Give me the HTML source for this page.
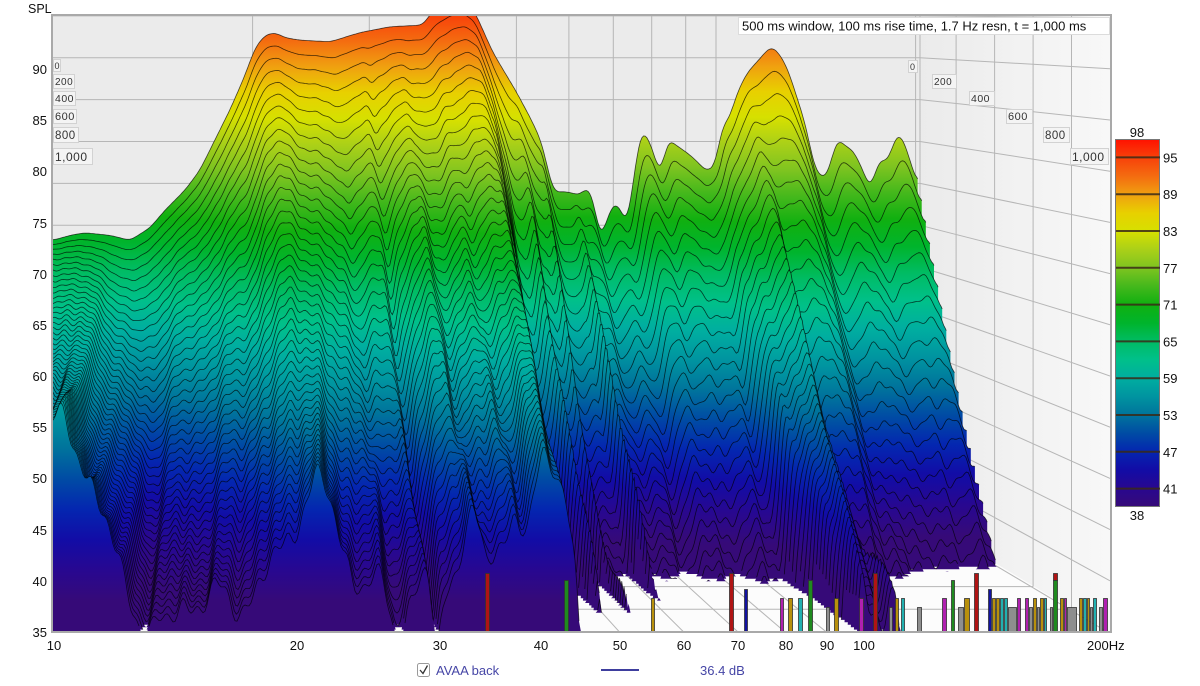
<!DOCTYPE html>
<html><head><meta charset="utf-8">
<style>
html,body{margin:0;padding:0;background:#fff;}
body{width:1200px;height:686px;overflow:hidden;position:relative;font-family:"Liberation Sans",sans-serif;}
svg{position:absolute;left:0;top:0;}
text{font-family:"Liberation Sans",sans-serif;}
</style></head><body>
<svg id="c" width="1200" height="686" viewBox="0 0 1200 686" xmlns="http://www.w3.org/2000/svg">
<defs id="defs">
 <clipPath id="pc"><rect x="53" y="16" width="1057" height="615"/></clipPath>
 <linearGradient id="rw" x1="0" y1="0" x2="1" y2="0"><stop offset="0" stop-color="#ebebeb"/><stop offset="1" stop-color="#f8f8f8"/></linearGradient>
</defs>
<g clip-path="url(#pc)">
  <polygon points="53,15 920,15 920,518 53,518" fill="#ebebeb"/>
  <polygon points="920,15 1110,15 1110,632 920,518" fill="url(#rw)"/>
  <polygon points="53,518 920,518 1110,632 53,632" fill="#fcfcfc"/>
  <g id="grid" stroke="#b6b6b6" stroke-width="1" fill="none"></g>
  <g id="wf"></g>
  <g id="bars"></g>
</g>
<rect x="52" y="15" width="1059" height="617" fill="none" stroke="#a9a9a9" stroke-width="2"/>
<g fill="#f4f4f4" stroke="#d2d2d2" stroke-width="1">
 <rect x="53.5" y="59.5" width="7" height="12"/>
 <rect x="53.5" y="74.5" width="21" height="14"/>
 <rect x="53.5" y="91.5" width="22" height="14"/>
 <rect x="53.5" y="109.5" width="23" height="14"/>
 <rect x="53.5" y="127.5" width="25" height="15"/>
 <rect x="53.5" y="148.5" width="39" height="16"/>
 <rect x="908.5" y="60.5" width="9" height="12"/>
 <rect x="932.5" y="74.5" width="24" height="14"/>
 <rect x="969.5" y="91.5" width="25" height="14"/>
 <rect x="1006.5" y="109.5" width="26" height="14"/>
 <rect x="1043.5" y="127.5" width="26" height="15"/>
 <rect x="1070.5" y="148.5" width="38" height="16"/>
</g>
<g fill="#333">
 <text x="54.5" y="69" font-size="9">0</text>
 <text x="55" y="85" font-size="10" letter-spacing="0.5">200</text>
 <text x="55" y="102" font-size="10.5" letter-spacing="0.5">400</text>
 <text x="55" y="120" font-size="11" letter-spacing="0.5">600</text>
 <text x="55" y="139" font-size="11.5" letter-spacing="0.5">800</text>
 <text x="55" y="161" font-size="12" letter-spacing="0.5">1,000</text>
 <text x="910" y="70" font-size="9">0</text>
 <text x="934" y="85" font-size="10" letter-spacing="0.5">200</text>
 <text x="971" y="102" font-size="10.5" letter-spacing="0.5">400</text>
 <text x="1008" y="120" font-size="11" letter-spacing="0.5">600</text>
 <text x="1045" y="139" font-size="11.5" letter-spacing="0.5">800</text>
 <text x="1072" y="161" font-size="12" letter-spacing="0.5">1,000</text>
</g>
<rect x="738.5" y="17.5" width="371" height="17" fill="#fff" stroke="#dcdcdc"/>
<text x="742" y="30.5" font-size="13" fill="#111">500 ms window, 100 ms rise time,  1.7 Hz resn, t = 1,000 ms</text>
<text x="28" y="13" font-size="12.5" fill="#111">SPL</text>
<g font-size="13" fill="#111" text-anchor="end">
 <text x="47" y="74">90</text>
 <text x="47" y="125">85</text>
 <text x="47" y="176">80</text>
 <text x="47" y="228">75</text>
 <text x="47" y="279">70</text>
 <text x="47" y="330">65</text>
 <text x="47" y="381">60</text>
 <text x="47" y="432">55</text>
 <text x="47" y="483">50</text>
 <text x="47" y="535">45</text>
 <text x="47" y="586">40</text>
 <text x="47" y="637">35</text>
</g>
<g font-size="13" fill="#111" text-anchor="middle">
 <text x="54" y="650">10</text>
 <text x="297" y="650">20</text>
 <text x="440" y="650">30</text>
 <text x="541" y="650">40</text>
 <text x="620" y="650">50</text>
 <text x="684" y="650">60</text>
 <text x="738" y="650">70</text>
 <text x="786" y="650">80</text>
 <text x="827" y="650">90</text>
 <text x="864" y="650">100</text>
</g>
<text x="1087" y="650" font-size="13" fill="#111">200Hz</text>
<rect x="417.5" y="663.5" width="12" height="13" rx="2" fill="#fff" stroke="#9a9a9a"/>
<path d="M420,670 l3,3.5 l4.5,-8" stroke="#333" stroke-width="1.3" fill="none"/>
<text x="436" y="675" font-size="13" fill="#4646a6">AVAA back</text>
<line x1="601" y1="670" x2="639" y2="670" stroke="#3e3e9e" stroke-width="2"/>
<text x="700" y="675" font-size="13" fill="#4646a6">36.4 dB</text>
<rect id="cbr" x="1115.5" y="139.5" width="44" height="367" fill="url(#cb)" stroke="#777"/>
<g id="cbt"></g>
<text x="1137" y="137" font-size="13" fill="#111" text-anchor="middle">98</text>
<text x="1137" y="520" font-size="13" fill="#111" text-anchor="middle">38</text>
</svg>
<script>
(function(){
var NS="http://www.w3.org/2000/svg";
var K=0.818;
function yf(d){return 632-(d-35)*10.24;}
function sx(u,s){return 53+s*u;}
function sy(d,s){return 8+s*(yf(d)-8);}
function el(tag,a,p){var e=document.createElementNS(NS,tag);for(var k in a)e.setAttribute(k,a[k]);p.appendChild(e);return e;}
var defs=document.getElementById('defs');
var ST=[[98,'#ff1200'],[95,'#f8420a'],[92,'#f46c10'],[89,'#f0a010'],[86,'#e8d000'],[83,'#d6e000'],[80,'#aad018'],[77,'#7ec420'],[74,'#44b81c'],[71,'#10b010'],[68,'#00b42c'],[65,'#00bc64'],[62,'#00c08a'],[59,'#00aea0'],[56,'#0094a0'],[53,'#00749c'],[50,'#004ca4'],[47,'#0426b0'],[44,'#120ca6'],[41,'#280890'],[38,'#360a78']];
function addStops(g){for(var i=0;i<ST.length;i++){el('stop',{offset:((98-ST[i][0])/60).toFixed(4),'stop-color':ST[i][1]},g);}}
var cb=el('linearGradient',{id:'cb',x1:0,y1:0,x2:0,y2:1},defs);addStops(cb);
var cbt=document.getElementById('cbt');
[95,89,83,77,71,65,59,53,47,41].forEach(function(d){
 var y=139+(98-d)/60*368;
 el('line',{x1:1116,y1:y,x2:1160,y2:y,stroke:'#3a2a18','stroke-width':2,'stroke-opacity':0.85},cbt);
 var t=el('text',{x:1163,y:y+5,'font-size':13,fill:'#111'},cbt);t.textContent=String(d);
});
var G=document.getElementById('grid');
function ln(x1,y1,x2,y2){el('line',{x1:x1.toFixed(1),y1:y1.toFixed(1),x2:x2.toFixed(1),y2:y2.toFixed(1)},G);}
function uf(f){return 810.5*Math.log10(f/10);}
var freqs=[20,30,40,50,60,70,80,90,100,200];
freqs.forEach(function(f){var u=uf(f);ln(sx(u,K),0,sx(u,K),518);ln(sx(u,K),518,sx(u,1),632);});
for(var d=40;d<=95;d+=5){ln(53,sy(d,K),920,sy(d,K));ln(920,sy(d,K),1110,yf(d));}
for(var k=1;k<5;k++){var s=K+(1-K)*k/5;ln(53,8+s*624,53+s*1057,8+s*624);ln(53+s*1057,0,53+s*1057,8+s*624);}
ln(920,0,920,518);
var Bp=[[0,68.2],[20.8,68.8],[39.1,69.1],[69.7,68.8],[94.1,68.2],[118.6,69.7],[136.9,71.8],[161.4,74.2],[179.7,76.6],[198,80.2],[216.4,83.8],[234.7,87.9],[246.9,91.2],[259.2,92.7],[271.4,93.0],[283.6,92.4],[302,92.1],[338.6,91.9],[375.3,93.0],[412,93.7],[452.3,93.9],[463.3,95.5],[479.2,96.5],[497.6,96.9],[512.2,96.0],[518.3,94.9],[537.9,90.6],[567.2,85.8],[586.8,82.2],[597.8,79.8],[611.3,74.0],[628.4,74.0],[644.3,73.6],[652.8,74.6],[660.2,73.4],[668.7,68.2],[684.6,72.7],[693.2,72.2],[701.7,69.8],[717.6,81.0],[723.7,81.1],[733.5,79.0],[742.1,75.8],[751.8,80.4],[757.9,79.8],[770.2,79.0],[782.4,78.1],[793.4,77.0],[799.5,76.4],[811.7,77.4],[815.4,81.4],[827.6,82.9],[836.2,85.8],[848.4,88.2],[860.6,89.5],[876.5,91.3],[885.1,90.9],[897.3,88.9],[909.5,85.3],[921.8,81.4],[929.1,77.4],[937.7,75.8],[946.2,75.8],[958.4,80.4],[970.7,79.3],[978,79.0],[990.2,76.6],[998.8,74.2],[1011,78.1],[1019.6,77.4],[1031.8,81.0],[1039.1,80.4],[1051.4,76.6],[1057,74.8]];
var Fp=[[0,53.7],[14,54],[30,52],[50,47],[70,41],[87,37.5],[100,34.5],[115,34.5],[130,37],[160,38.5],[200,39.5],[230,42],[250,47],[262,49],[275,48],[300,42],[330,39],[345,34],[355,37],[375,40],[384,31],[392,38],[410,46],[420,48],[432,42],[450,44],[462,47],[475,44],[490,50],[500,51],[512,50],[522,42],[532,30],[545,16],[555,15],[565,33],[575,15],[588,15],[594,30],[600,15],[630,15],[637,36],[644,15],[700,15],[760,15],[795,15],[807,37],[845,37],[858,14],[950,10],[1057,1]];
function interp(P,u){if(u<=P[0][0])return P[0][1];for(var i=1;i<P.length;i++){if(u<=P[i][0]){var a=P[i-1],b=P[i];return a[1]+(b[1]-a[1])*(u-a[0])/(b[0]-a[0]);}}return P[P.length-1][1];}
var U=[];for(var u=0;u<1057;u+=2)U.push(u);U.push(1057);
function smooth(A,r){var out=[];for(var i=0;i<A.length;i++){var s=0,n=0;for(var j=i-r;j<=i+r;j++){if(j>=0&&j<A.length){s+=A[j];n++;}}out.push(s/n);}return out;}
var Bv=U.map(function(u){return interp(Bp,u);});Bv=smooth(smooth(Bv,2),2);
var Fv=U.map(function(u){return interp(Fp,u);});Fv=smooth(Fv,1);
function rip(u,t){var amp=t*(u>520?2.6:1.5);return amp*(0.4*Math.sin(u/2.4+t*23)+0.9*Math.sin(u/8.5+t*6+1.3)+0.7*Math.sin(u/19-t*5)+0.5*Math.sin(u/5.1+t*11+2));}
var W=document.getElementById('wf');
var N=48;
function H(t){var a=1-t;return (Math.pow(a,2.2)+a)/2;}
for(var i=0;i<N;i++){
 var t=i/(N-1),s=K+(1-K)*t,h=H(t);
 var gid='g'+i;
 var g=el('linearGradient',{id:gid,gradientUnits:'userSpaceOnUse',x1:0,y1:sy(98,s).toFixed(1),x2:0,y2:sy(38,s).toFixed(1)},defs);addStops(g);
 var fp=[],d='',pen=false,yfl=sy(35,s);
 for(var j=0;j<U.length;j++){
  var uu=U[j];var L=Fv[j]+(Bv[j]-Fv[j])*h+rip(uu,t);
  var x=sx(uu,s),y;
  if(L>35){y=sy(L,s);d+=(pen?'L':'M')+x.toFixed(1)+','+y.toFixed(1);pen=true;}
  else{y=yfl;pen=false;}
  fp.push(x.toFixed(1)+','+y.toFixed(1));
 }
 fp.push(sx(1057,s).toFixed(1)+','+yfl.toFixed(1));fp.push('53,'+yfl.toFixed(1));
 el('polygon',{points:fp.join(' '),fill:'url(#'+gid+')'},W);
 if(d)el('path',{d:d,fill:'none',stroke:'#000','stroke-opacity':0.7,'stroke-width':0.8},W);
}
var bars=[[485,490,'r'],[564,569,'g'],[651,655,'o'],[729,734,'r'],[744,748,'b'],[780,784,'m'],[788,793,'o'],[798,803,'c'],[808,813,'g'],[826,830,'k'],[834,839,'o'],[859,864,'m'],[873,878,'r'],[889,893,'k'],[895,899,'o'],[901,905,'c'],[917,922,'k'],[942,947,'m'],[951,955,'g'],[958,964,'k'],[964,970,'o'],[974,979,'r'],[988,992,'b'],[992,996,'o'],[996,1000,'o'],[1000,1004,'c'],[1004,1008,'c'],[1008,1017,'k'],[1017,1021,'m'],[1025,1029,'m'],[1029,1033,'k'],[1033,1037,'o'],[1037,1040,'k'],[1040,1044,'o'],[1044,1047,'c'],[1050,1053,'k'],[1053,1058,'R'],[1060,1064,'o'],[1064,1067,'m'],[1067,1077,'k'],[1079,1083,'o'],[1083,1087,'c'],[1087,1090,'o'],[1090,1093,'k'],[1093,1097,'c'],[1099,1103,'k'],[1103,1108,'m']];
var BC={r:['#b01414',573],g:['#1f8a1f',580],o:['#b8900c',598],b:['#1212a0',589],m:['#b020b0',598],c:['#22b0b0',598],k:['#8e8e8e',607]};
var BG=document.getElementById('bars');
bars.forEach(function(b){
 if(b[2]==='R'){
  el('rect',{x:b[0]+0.5,y:573.5,width:b[1]-b[0]-1,height:7,fill:'#b01414',stroke:'#333','stroke-width':0.8},BG);
  el('rect',{x:b[0]+0.5,y:580.5,width:b[1]-b[0]-1,height:51,fill:'#1f8a1f',stroke:'#333','stroke-width':0.8},BG);
 } else {
  var c=BC[b[2]];
  el('rect',{x:b[0]+0.5,y:c[1]+0.5,width:b[1]-b[0]-1,height:631-c[1],fill:c[0],stroke:'#333','stroke-width':0.8},BG);
 }
});
})();
</script>
</body></html>
